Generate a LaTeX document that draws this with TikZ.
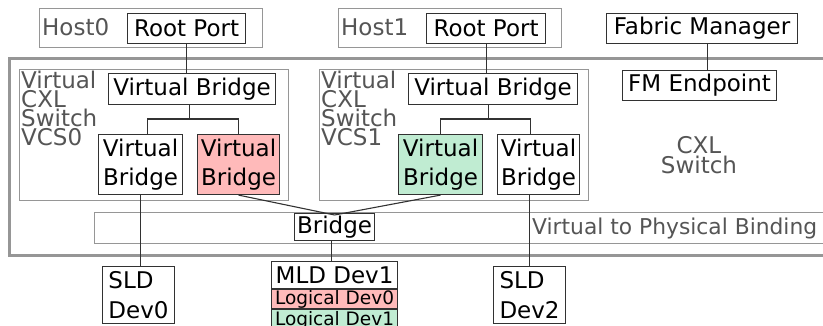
\documentclass[tikz,border=0pt]{standalone}
\usepackage{fontspec}
\setmainfont{DejaVu Sans}
\definecolor{pinkfill}{RGB}{255,186,186}
\definecolor{greenfill}{RGB}{192,236,210}
\definecolor{boxline}{RGB}{50,50,50}
\definecolor{grayline}{RGB}{150,150,150}
\definecolor{graytext}{RGB}{85,85,85}
\tikzset{
  blk/.style={draw=boxline, line width=1.1pt, fill=white, inner sep=0pt, anchor=north west,
    font=\fontsize{23}{28.5}\selectfont, text=black, align=center},
  grp/.style={draw=grayline, line width=1.1pt, inner sep=0pt, anchor=north west},
  glabel/.style={inner sep=0pt, text=graytext, font=\fontsize{23}{19}\selectfont, align=left},
  conn/.style={draw=boxline, line width=1.1pt},
}
\begin{document}
\begin{tikzpicture}[x=1pt,y=-1pt]
\useasboundingbox (0,0) rectangle (823,326);
\clip (0,0) rectangle (823,326);
% hosts
\node[grp, minimum width=223, minimum height=39] (host0) at (39,8) {};
\node[glabel, anchor=west] (host0l) at (42,27.5) {Host0};
\node[blk, minimum width=118, minimum height=30] (rp0) at (127,13) {Root Port};
\node[grp, minimum width=223, minimum height=39] (host1) at (338,8) {};
\node[glabel, anchor=west] (host1l) at (341,27.5) {Host1};
\node[blk, minimum width=119, minimum height=30] (rp1) at (426,13) {Root Port};
\node[blk, minimum width=191, minimum height=30] (fm) at (606,13) {Fabric Manager};
% CXL switch
\node[draw=grayline, line width=2.6pt, inner sep=0pt, anchor=north west, minimum width=840, minimum height=197] (sw) at (8,57) {};
\node[glabel, align=center, anchor=center, font=\fontsize{23}{20}\selectfont] (swl) at (699,155) {CXL\\Switch};
% VCS0
\node[grp, minimum width=269, minimum height=131] (vcs0) at (19,69) {};
\node[glabel, anchor=north west] (vcs0l) at (21,71) {Virtual\\CXL\\Switch\\VCS0};
\node[blk, minimum width=167, minimum height=31] (vb0) at (108,73) {Virtual Bridge};
\node[blk, minimum width=84, minimum height=60] (vb0a) at (98,134) {Virtual\\Bridge};
\node[blk, minimum width=82, minimum height=60, fill=pinkfill] (vb0b) at (197,134) {Virtual\\Bridge};
% VCS1
\node[grp, minimum width=269, minimum height=131] (vcs1) at (319,69) {};
\node[glabel, anchor=north west] (vcs1l) at (321,71) {Virtual\\CXL\\Switch\\VCS1};
\node[blk, minimum width=169, minimum height=31] (vb1) at (408,73) {Virtual Bridge};
\node[blk, minimum width=84, minimum height=60, fill=greenfill] (vb1a) at (398,134) {Virtual\\Bridge};
\node[blk, minimum width=82, minimum height=60] (vb1b) at (497,134) {Virtual\\Bridge};
% FM endpoint
\node[blk, minimum width=154, minimum height=30] (fme) at (622,70) {FM Endpoint};
% binding
\node[grp, minimum width=740, minimum height=31] (vpb) at (94,212) {};
\node[glabel, anchor=west, font=\fontsize{21.8}{20}\selectfont] (vpbl) at (532,228) {Virtual to Physical Binding};
\node[blk, minimum width=80, minimum height=27] (br) at (294,213) {Bridge};
% devices
\node[blk, minimum width=72, minimum height=57, align=left, font=\fontsize{23}{30}\selectfont] (sld0) at (102,266) {SLD\\Dev0};
\node[blk, minimum width=72, minimum height=57, align=left, font=\fontsize{23}{30}\selectfont] (sld2) at (493,266) {SLD\\Dev2};
\node[blk, minimum width=126, minimum height=27] (mld) at (271,261) {MLD Dev1};
\node[blk, minimum width=126, minimum height=19, fill=pinkfill, font=\fontsize{18.5}{18}\selectfont] (ld0) at (mld.south west) {Logical Dev0};
\node[blk, minimum width=126, minimum height=21, fill=greenfill, font=\fontsize{18.5}{18}\selectfont] (ld1) at (ld0.south west) {Logical Dev1};
% connectors
\draw[conn] (rp0.south) -- (rp0.south |- vb0.north);
\draw[conn] (rp1.south) -- (rp1.south |- vb1.north);
\draw[conn] ([xshift=5pt]fm.south) -- ([xshift=5pt]fm.south |- fme.north);
\draw[conn] ([xshift=-3pt]vb0.south) -- ++(0,15);
\draw[conn] ([xshift=7pt]vb0a.north) -- ++(0,-15) -| (vb0b.north);
\draw[conn] ([xshift=-5pt]vb1.south) -- ++(0,15);
\draw[conn] (vb1a.north) -- ++(0,-15) -| ([xshift=-8pt]vb1b.north);
\draw[conn] (vb0a.south) -- (vb0a.south |- sld0.north);
\draw[conn] (sld2.north) -- (sld2.north |- vb1b.south);
\draw[conn] (vb0b.south) -- ([yshift=-2pt]br.north);
\draw[conn] (vb1a.south) -- ([yshift=-2pt]br.north);
\draw[conn] ([xshift=-3pt]br.south) -- ([xshift=-3pt]br.south |- mld.north);
\end{tikzpicture}
\end{document}
